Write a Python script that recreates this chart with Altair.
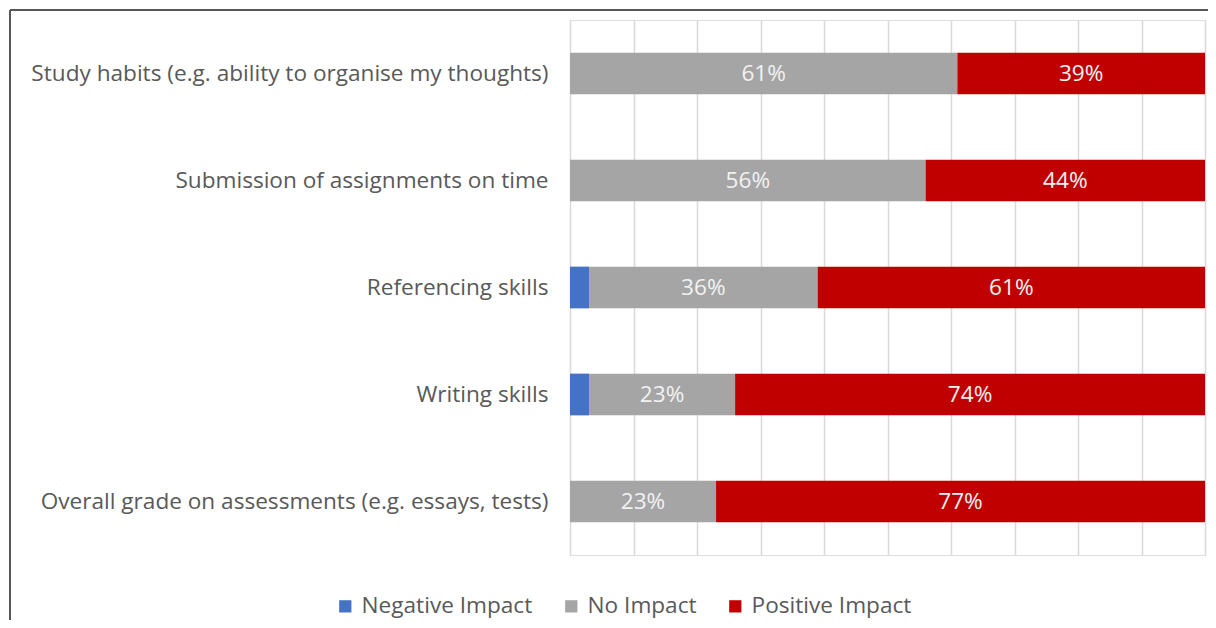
import altair as alt
import pandas as pd

categories = [
    "Study habits (e.g. ability to organise my thoughts)",
    "Submission of assignments on time",
    "Referencing skills",
    "Writing skills",
    "Overall grade on assessments (e.g. essays, tests)",
]
impacts = ["Negative Impact", "No Impact", "Positive Impact"]
negative = [0, 0, 3, 3, 0]
no_impact = [61, 56, 36, 23, 23]
positive = [39, 44, 61, 74, 77]
colors = ["#4472C4", "#A5A5A5", "#C00000"]

rows = []
for i, c in enumerate(categories):
    for j, (imp, vals) in enumerate(zip(impacts, [negative, no_impact, positive])):
        rows.append({"category": c, "impact": imp, "order": j, "value": vals[i]})
df = pd.DataFrame(rows)

FONT = "Open Sans"
TXT = "#595959"
FS = 22.6

y_enc = alt.Y(
    "category:N",
    sort=categories,
    title=None,
    scale=alt.Scale(paddingInner=0.61, paddingOuter=0.305),
    axis=alt.Axis(
        domain=False, ticks=False, labelPadding=22, labelFontSize=FS,
        labelFont=FONT, labelColor=TXT, labelLimit=0,
    ),
)

bars = alt.Chart(df).mark_bar(cornerRadius=0).encode(
    x=alt.X(
        "value:Q", stack="zero", title=None,
        scale=alt.Scale(domain=[0, 100], nice=False),
        axis=alt.Axis(
            values=list(range(0, 101, 10)), labels=False, ticks=False,
            domain=False, grid=True, gridColor="#D9D9D9", gridWidth=1.5,
        ),
    ),
    y=y_enc,
    color=alt.Color(
        "impact:N",
        scale=alt.Scale(domain=impacts, range=colors),
        legend=alt.Legend(
            title=None, orient="none", legendX=-236, legendY=575,
            direction="horizontal", symbolType="square", symbolSize=150,
            symbolStrokeWidth=0, labelFontSize=FS, labelFont=FONT,
            labelColor=TXT, columnPadding=27, labelOffset=5, labelLimit=400,
        ),
    ),
    order=alt.Order("order:Q"),
)

labels = (
    alt.Chart(df)
    .transform_stack(
        stack="value", groupby=["category"], sort=[alt.SortField("order")],
        as_=["x0", "x1"],
    )
    .transform_calculate(mid="(datum.x0 + datum.x1) / 2",
                         label="datum.value + '%'")
    .transform_filter("datum.value >= 10")
    .mark_text(color="#F2F2F2", fontSize=FS, font=FONT, baseline="middle")
    .encode(x=alt.X("mid:Q"), y=alt.Y("category:N", sort=categories), text="label:N")
)

border_top = alt.Chart(df).mark_rule(color="#595959", strokeWidth=1.5).encode(
    x=alt.value(-560), x2=alt.value(700), y=alt.value(-10)
)
border_left = alt.Chart(df).mark_rule(color="#595959", strokeWidth=1.5).encode(
    x=alt.value(-560), y=alt.value(-10), y2=alt.value(700)
)

chart = (
    alt.layer(bars, labels, border_top, border_left)
    .properties(
        width=635, height=535,
        autosize=alt.AutoSizeParams(type="none"),
        padding={"left": 562, "top": 12, "right": 3, "bottom": 65},
    )
    .configure_view(stroke=None)
    .configure(background="white")
)

chart.save("out.html", embed_options={"renderer": "svg", "actions": False})
